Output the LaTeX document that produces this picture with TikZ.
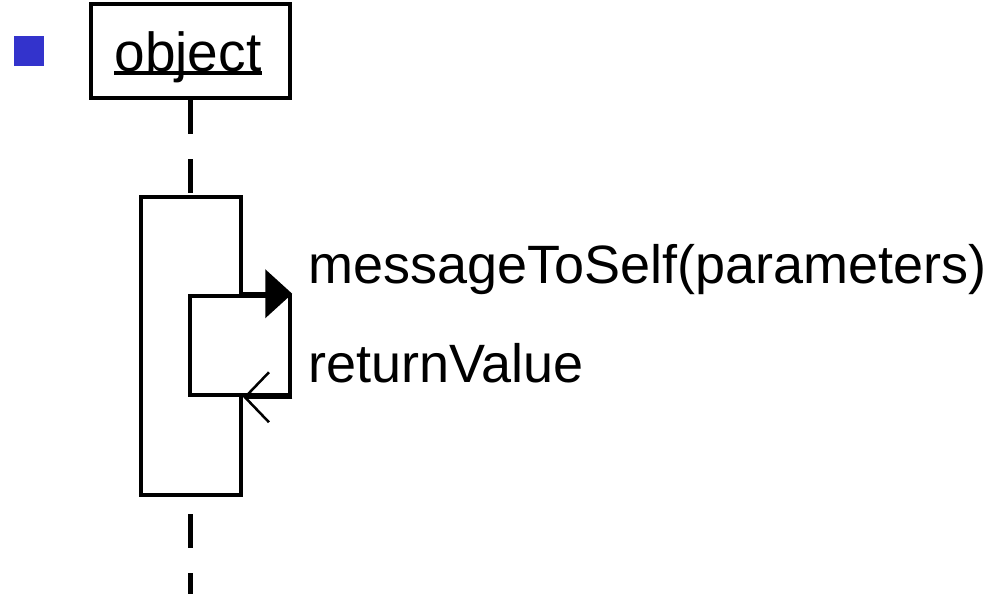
\documentclass[tikz,border=0pt]{standalone}
\usepackage{fontspec}
\setmainfont{Liberation Sans}
\usetikzlibrary{arrows.meta}
\definecolor{bulletblue}{RGB}{51,51,204}

\begin{document}
\begin{tikzpicture}[x=1pt,y=-1pt,
  boxframe/.style={draw=black, line width=4.5pt, fill=white, inner sep=0pt},
  msgtext/.style={font=\fontsize{54}{60}\selectfont, inner sep=0pt, anchor=base west},
  lifeline/.style={line width=4.5pt, dash pattern=on 34pt off 25pt}]
\useasboundingbox (0,0) rectangle (994,594);

% slide bullet
\node[fill=bulletblue, minimum size=30pt, inner sep=0pt] (bullet) at (29,51) {};

% object head
\node[boxframe, minimum width=199pt, minimum height=94pt] (obj) at (190.5,51) {};
\node[font=\fontsize{55}{60}\selectfont, inner sep=0pt, anchor=base] (objname) at (188,71) {object};
\draw[line width=4pt] ([yshift=-2pt]objname.base west) -- ([yshift=-2pt]objname.base east);

% activation bar and nested self-call activation
\node[boxframe, minimum width=100pt, minimum height=298pt] (act) at (191,346) {};
\coordinate (lifeend) at (190.5,600);

% lifeline
\draw[lifeline] (obj.south) -- (obj.south |- act.north);
\draw[lifeline, dash phase=42pt] (obj.south |- act.south) -- (lifeend);

\node[boxframe, minimum width=100pt, minimum height=99pt] (nest) at (240,345.5) {};

% call and return
\draw[line width=4.5pt, -{Triangle[length=27pt,width=48pt]}] (act.east |- nest.north) -- (nest.north east);
\draw[line width=2.5pt, -{Straight Barb[length=24pt,width=50pt]}] (nest.south east) -- (act.east |- nest.south);

% message labels
\node[msgtext] (msg) at (308,283) {messageToSelf(parameters)};
\node[msgtext] (ret) at (308,382) {returnValue};
\end{tikzpicture}
\end{document}
